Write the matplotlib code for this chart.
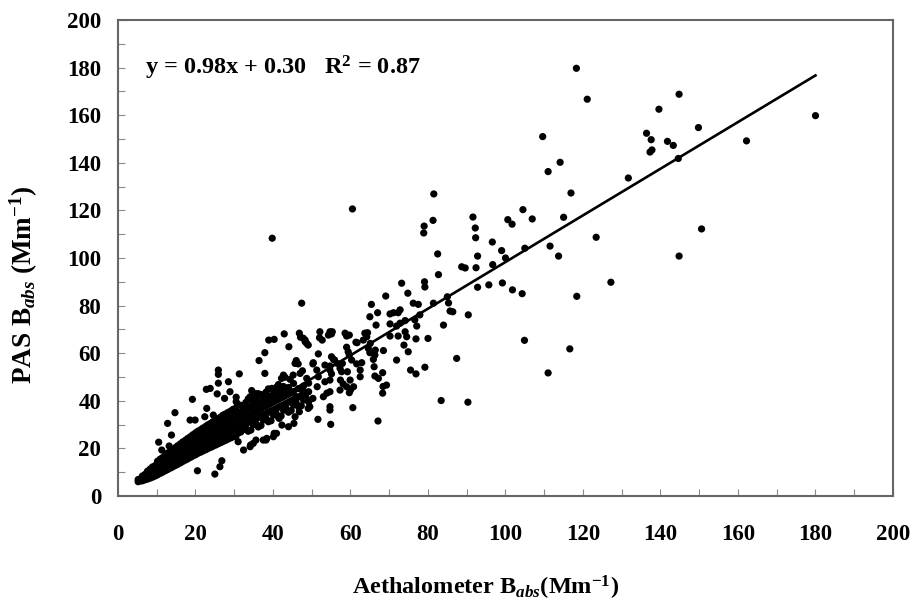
import matplotlib.pyplot as plt
import numpy as np

# Aethalometer (x) vs PAS (y) absorption, Mm-1

# dense low-end cluster, one row per aethalometer value
dense_cols = [
    (5.2, [6.0, 6.9]), (6.3, [6.4, 7.5, 8.4]), (7.6, [7.1, 8.3, 9.4, 10.4]),
    (8.9, [7.9, 9.2, 10.6, 12.2]), (10.2, [8.9, 10.5, 12.1, 13.4, 14.6]),
    (11.5, [10.0, 11.8, 13.5, 14.9, 16.1]), (12.8, [11.1, 12.9, 14.6, 16.4, 18.0]),
    (14.1, [12.2, 14.1, 15.9, 17.8, 19.5]), (15.4, [13.3, 15.2, 17.3, 19.2, 21.1]),
    (16.7, [14.5, 16.4, 18.4, 20.5, 22.7]), (18.0, [15.6, 17.7, 19.9, 21.8, 24.2]),
    (19.3, [16.8, 18.9, 21.1, 23.3, 25.7]), (20.6, [17.9, 20.2, 22.4, 24.6, 27.2]),
    (21.9, [18.9, 21.1, 23.5, 25.9, 28.5]), (23.2, [19.9, 22.3, 24.8, 27.4, 29.9]),
    (24.5, [20.9, 23.4, 25.8, 28.6, 31.2]), (25.8, [21.9, 24.4, 27.1, 29.7, 32.5]),
    (27.1, [22.9, 25.5, 28.2, 31.0, 33.9]), (28.4, [23.9, 26.7, 29.4, 32.3, 35.1]),
    (29.7, [24.9, 27.7, 30.6, 33.5, 36.4]), (31.0, [26.4, 28.6, 31.7, 34.6, 38.3]),
    (32.3, [27.9, 29.8, 32.9, 35.8, 38.0]), (33.6, [27.2, 30.9, 33.8, 37.0, 40.8]),
    (34.9, [29.9, 31.9, 35.1, 38.2, 40.4]), (36.2, [29.0, 33.0, 36.2, 39.3, 43.0]),
    (37.5, [31.9, 34.1, 37.3, 40.4, 42.4]), (38.8, [31.2, 35.2, 38.4, 41.3, 45.0]),
    (40.1, [34.0, 36.1, 39.5, 42.5, 44.3]), (41.4, [33.1, 37.3, 40.6, 43.6, 46.8]),
    (42.7, [36.0, 38.3, 41.7, 44.5, 46.0]), (44.0, [35.2, 39.4, 42.8, 45.6]),
    (45.3, [38.2, 40.5, 43.9, 47.3]), (46.6, [37.4, 41.6, 45.1]),
    (47.9, [40.3, 42.7, 46.2]), (49.2, [39.5, 43.8, 47.4]),
    # second pass, offset between the rows above
    (5.8, [6.3, 7.2]), (7.0, [6.8, 7.9, 9.1]), (8.3, [7.5, 8.8, 10.0, 11.3]),
    (9.6, [8.4, 9.9, 11.4, 12.8]), (10.9, [9.5, 11.2, 12.8, 14.2, 15.5]),
    (12.2, [10.6, 12.3, 14.0, 15.7, 17.1]), (13.5, [11.7, 13.5, 15.3, 17.1, 18.8]),
    (14.8, [12.8, 14.7, 16.6, 18.5, 20.3]), (16.1, [13.9, 15.8, 17.9, 19.9, 21.9]),
    (17.4, [15.1, 17.0, 19.1, 21.2, 23.4]), (18.7, [16.2, 18.3, 20.5, 22.6, 24.9]),
    (20.0, [17.3, 19.5, 21.8, 23.9, 26.5]), (21.3, [18.4, 20.7, 22.9, 25.3, 27.8]),
    (22.6, [19.4, 21.7, 24.1, 26.6, 29.2]), (23.9, [20.4, 22.9, 25.3, 28.0, 30.5]),
    (25.2, [21.4, 23.9, 26.5, 29.1, 31.8]), (26.5, [22.4, 25.0, 27.6, 30.4, 33.2]),
    (27.8, [23.4, 26.1, 28.8, 31.6, 34.5]), (29.1, [24.4, 27.2, 30.0, 32.9, 35.7]),
    (30.4, [24.9, 28.2, 31.1, 34.1, 36.9]), (31.7, [26.9, 29.2, 32.3, 35.2, 38.1]),
    (33.0, [28.4, 30.3, 33.4, 36.4, 39.3]), (34.3, [27.7, 31.4, 34.5, 37.6, 40.5]),
    (35.6, [30.4, 32.5, 35.6, 38.7, 41.6]), (36.9, [29.6, 33.6, 36.7, 39.8, 42.6]),
    (38.2, [32.6, 34.6, 37.8, 40.9, 43.6]), (39.5, [31.6, 35.7, 38.9, 42.0]),
    (40.8, [34.7, 36.7, 40.1, 43.0]), (42.1, [33.6, 37.8, 41.2, 44.1]),
    (43.4, [36.7, 38.9, 42.3]), (44.7, [35.9, 40.0, 43.4]),
    (46.0, [39.0, 41.1]), (47.3, [37.9, 42.2]), (48.6, [41.0, 43.3]),
]

# scattered points around the cluster edges and the 35-75 range
mid_pts = [
    (14.7, 35.0), (12.8, 30.5), (10.5, 22.6), (19.2, 40.6), (22.8, 44.8),
    (23.8, 45.2), (25.9, 52.9), (25.9, 51.1), (31.3, 51.3), (27.5, 41.0),
    (28.9, 43.8), (30.5, 41.5), (34.5, 44.3), (35.0, 43.2), (25.9, 47.4),
    (25.6, 42.9), (28.5, 48.0), (13.8, 25.6), (13.2, 21.0), (11.3, 19.3),
    (22.9, 36.8), (22.4, 33.3), (18.6, 31.9), (19.9, 31.9), (24.6, 34.0),
    (27.2, 34.0), (30.5, 39.6), (35.8, 42.9), (34.1, 41.7), (39.7, 45.2),
    (40.9, 45.7), (48.3, 64.8), (47.1, 66.7), (47.6, 52.6), (43.1, 49.9),
    (44.4, 49.0), (48.7, 49.4), (49.1, 36.8), (46.8, 35.4), (45.7, 33.3),
    (44.0, 29.1), (40.9, 26.3), (40.1, 24.9), (38.4, 24.2), (37.5, 23.5),
    (34.9, 22.1), (34.1, 20.7), (32.4, 19.3), (31.0, 22.8), (26.8, 14.8),
    (26.3, 12.3), (25.0, 9.2), (20.5, 10.6),
    (67.1, 31.5), (54.9, 30.1), (51.6, 32.2), (60.6, 37.1), (45.4, 30.5),
    (54.7, 36.1), (54.7, 37.5), (42.3, 29.8), (41.6, 32.6), (38.2, 23.5),
    (40.3, 26.3), (35.6, 23.5), (34.2, 21.4), (49.5, 37.5), (46.0, 41.7),
    (47.6, 44.5), (50.3, 41.0), (53.0, 41.7), (51.4, 45.9), (57.3, 44.5),
    (59.0, 45.9), (55.9, 57.1), (48.3, 65.5), (48.7, 64.1), (52.7, 65.5),
    (55.3, 69.0), (59.7, 67.6), (61.4, 64.6), (64.4, 68.6), (65.1, 64.1),
    (66.4, 61.3), (46.0, 56.9), (50.3, 55.5), (68.4, 46.0), (60.8, 45.9),
    (57.9, 55.7),
    (60.5, 120.6), (39.8, 108.3), (47.4, 81.0), (69.1, 84.0), (65.4, 80.5),
    (65.0, 75.3), (67.0, 77.0), (70.2, 76.5), (71.1, 77.0), (72.3, 77.0),
    (66.6, 71.8), (70.2, 72.3), (71.9, 71.4), (70.2, 67.2), (72.3, 67.2),
    (71.9, 57.1), (68.5, 61.1), (66.3, 59.2), (63.7, 68.4), (64.2, 66.9),
    (63.3, 65.5), (64.6, 62.0), (65.0, 60.2), (61.7, 64.4), (59.0, 62.5),
    (59.4, 60.6), (58.6, 68.4), (59.0, 67.2), (54.7, 69.0), (54.3, 67.6),
    (55.1, 68.1), (52.1, 69.0), (52.0, 66.5), (46.8, 68.4), (47.8, 66.3),
    (49.1, 63.4), (42.9, 68.1), (38.9, 65.5), (40.3, 65.8), (44.1, 62.7),
    (37.9, 60.2), (36.4, 56.9), (51.7, 59.7), (55.1, 58.5), (55.6, 57.4),
    (59.7, 59.2), (60.3, 57.1), (50.4, 56.0), (45.7, 55.7), (46.5, 55.5),
    (53.4, 55.0), (54.7, 54.6), (56.6, 55.7), (57.3, 53.6), (57.7, 52.2),
    (61.6, 55.5), (62.9, 56.0), (62.5, 52.9), (65.9, 57.4), (66.1, 54.3),
    (68.3, 51.8), (66.3, 50.4), (67.2, 49.4), (69.3, 46.6), (68.3, 43.2),
    (59.2, 52.2), (59.9, 48.7), (62.5, 50.1), (60.0, 44.5), (59.7, 43.4),
    (57.4, 48.7), (58.1, 47.1), (54.7, 52.9), (55.1, 51.3), (54.7, 48.7),
    (53.4, 48.0), (51.7, 50.1), (51.3, 52.9), (45.2, 50.8), (47.0, 51.5),
    (54.7, 43.8), (53.9, 43.2), (37.9, 51.5), (42.7, 50.8), (42.2, 49.4),
]

# sparse high-end points
high_pts = [
    (118.3, 179.7), (121.1, 166.7), (144.8, 168.8), (139.6, 162.5),
    (149.8, 154.8), (136.4, 152.4), (137.6, 149.7), (141.8, 149.0),
    (143.3, 147.3), (137.3, 144.5), (137.8, 145.4), (144.6, 141.8),
    (162.2, 149.2), (180.0, 159.8), (150.6, 112.2), (144.8, 100.8),
    (109.6, 151.0), (111.0, 136.3), (114.1, 140.2), (131.7, 133.6),
    (116.9, 127.3), (115.0, 117.1), (123.4, 108.7), (111.5, 105.0),
    (113.7, 100.8), (127.2, 89.8), (118.4, 83.9), (116.6, 61.8),
    (104.9, 65.4), (111.0, 51.7),
    (81.5, 126.9), (81.3, 115.8), (79.0, 113.4), (78.9, 110.5), (82.5, 101.7),
    (82.7, 93.0), (91.6, 117.2), (92.2, 112.6), (92.3, 108.5), (92.8, 100.8),
    (92.4, 95.9), (92.8, 87.7), (88.7, 96.3), (89.6, 95.8), (95.7, 88.7),
    (96.6, 106.7), (99.0, 103.1), (100.0, 100.0), (96.7, 97.2), (99.2, 89.5),
    (100.6, 116.1), (101.7, 114.2), (104.5, 120.3), (106.9, 116.4),
    (105.0, 104.1), (101.8, 86.6), (104.3, 85.0), (85.0, 83.7), (85.3, 81.1),
    (85.7, 77.7), (86.4, 77.4), (84.0, 71.8), (90.4, 76.1), (87.4, 57.8),
    (83.4, 40.1), (90.3, 39.4), (81.4, 81.0), (76.2, 81.0), (77.5, 80.5),
    (79.1, 90.0), (79.2, 87.8), (73.2, 89.4), (74.8, 85.2), (77.9, 76.1),
    (76.6, 74.0), (74.1, 73.7), (77.1, 71.4), (72.8, 72.6), (74.1, 69.0),
    (74.5, 66.9), (73.8, 63.4), (74.9, 60.6), (76.9, 66.0), (80.0, 66.2),
    (75.5, 52.9), (76.9, 51.3), (79.2, 54.1), (72.8, 78.2),
]

slope, intercept, r2 = 0.98, 0.30, 0.87

# flatten
x = [c for c, ys in dense_cols for _ in ys] + [p[0] for p in mid_pts + high_pts]
y = [v for c, ys in dense_cols for v in ys] + [p[1] for p in mid_pts + high_pts]
x = np.array(x)
y = np.array(y)

plt.rcParams['font.family'] = 'Liberation Serif'
plt.rcParams['font.weight'] = 'bold'
plt.rcParams['mathtext.fontset'] = 'custom'
plt.rcParams['mathtext.rm'] = 'Liberation Serif:bold'
plt.rcParams['mathtext.bf'] = 'Liberation Serif:bold'
plt.rcParams['mathtext.it'] = 'Liberation Serif:italic:bold'

fig = plt.figure(figsize=(9.14, 6.07), dpi=100)
ax = fig.add_axes([0.1291, 0.1829, 0.8479, 0.7842])

ax.scatter(x, y, s=27, color='black', edgecolors='none', zorder=3)
xl = np.array([x.min(), x.max()])
ax.plot(xl, slope * xl + intercept, color='black', lw=1.9, zorder=4)

ax.set_xlim(0, 200)
ax.set_ylim(0, 200)
ax.set_xticks(np.arange(0, 201, 20))
ax.set_yticks(np.arange(0, 201, 20))
ax.set_xticks(np.arange(10, 200, 20), minor=True)
ax.set_yticks(np.arange(10, 200, 20), minor=True)
ax.tick_params(which='both', direction='in', length=5, width=0.8, color='#888888')
ax.tick_params(axis='x', which='major', labelsize=16.5, pad=20)
ax.tick_params(axis='y', which='major', labelsize=16.5, pad=12)
for s in ax.spines.values():
    s.set_color('#666666')
    s.set_linewidth(1.5)

ax.set_xlabel(r'Aethalometer B$_{\mathit{abs}}$(Mm$^{\mathrm{-1}}$)', fontsize=17.5, fontweight='bold')
ax.set_ylabel(r'PAS B$_{\mathit{abs}}$ (Mm$^{\mathrm{-1}}$)', fontsize=19.5, fontweight='bold')
ax.xaxis.set_label_coords(0.474, -0.163)
ax.yaxis.set_label_coords(-0.101, 0.443)

ax.text(7, 180, 'y = %.2fx + %.2f   R$^{2}$ = %.2f' % (slope, intercept, r2),
        fontsize=17.5, fontweight='bold', va='center', ha='left')

fig.savefig('out.png', dpi=100)
